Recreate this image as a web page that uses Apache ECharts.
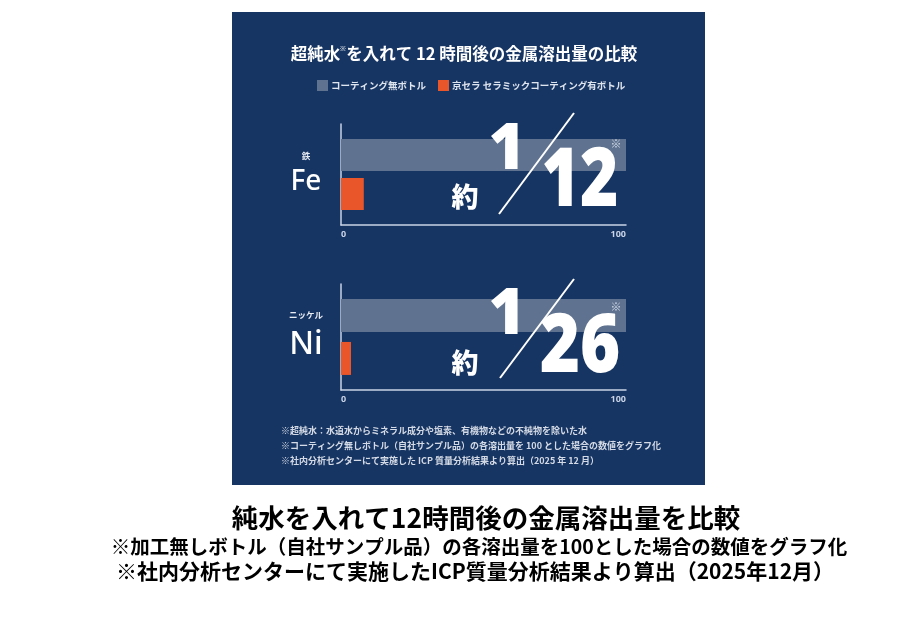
<!DOCTYPE html>
<html>
<head>
<meta charset="utf-8">
<script src="https://cdn.jsdelivr.net/npm/echarts@6/dist/echarts.min.js"></script>
<style>
html,body{margin:0;padding:0;background:#ffffff;}
#chart{width:922px;height:617px;}
</style>
</head>
<body>
<div id="chart"></div>
<script>
// ---- data ----
const metalSymbols = ['Fe', 'Ni'];
const metalNames = ['鉄', 'ニッケル'];
const seriesNames = ['コーティング無ボトル', '京セラ セラミックコーティング有ボトル'];
const uncoatedValues = [100, 100];
const coatedValues = [8, 3.5];
const ratioLabels = ['12', '26'];
const xTickValues = [0, 100];

const JP = '"Noto Sans CJK JP", "Noto Sans", sans-serif';
const NAVY = '#173563';
const GREY = '#5f7290';
const ORANGE = '#e8562a';
const AXIS = '#c9d3e6';

const grids = [
  { left: 341, width: 285, top: 124, height: 101 },
  { left: 341, width: 285, top: 284, height: 106 }
];
const barW = [32, 33];
const barGaps = ['22%', '30%'];
const symSize = [28, 32];
const symLH = [38, 44];

const xAxes = grids.map((g, i) => ({
  gridIndex: i, type: 'value', min: xTickValues[0], max: xTickValues[1], interval: xTickValues[1] - xTickValues[0],
  axisLine: { show: true, lineStyle: { color: AXIS, width: 1.5 } },
  axisTick: { show: false },
  splitLine: { show: false },
  axisLabel: { color: AXIS, fontSize: 9, fontFamily: 'Noto Sans', fontWeight: 'bold', margin: 5,
    alignMinLabel: 'left', alignMaxLabel: 'right' }
}));
const yAxes = grids.map((g, i) => ({
  gridIndex: i, type: 'category', inverse: true, data: [metalSymbols[i]],
  axisLine: { show: true, lineStyle: { color: AXIS, width: 1.5 } },
  axisTick: { show: false },
  axisLabel: {
    margin: 35, align: 'center',
    formatter: () => '{s|' + metalNames[i] + '}\n{b|' + metalSymbols[i] + '}',
    rich: {
      s: { color: '#e8ecf3', fontSize: 8.5, fontWeight: 'bold', fontFamily: JP, lineHeight: 16, align: 'center' },
      b: { color: '#ffffff', fontSize: symSize[i], fontWeight: 500, fontFamily: 'Noto Sans', lineHeight: symLH[i], align: 'center' }
    }
  }
}));
const series = [];
grids.forEach((g, i) => {
  series.push({ name: seriesNames[0], type: 'bar', xAxisIndex: i, yAxisIndex: i,
    data: [uncoatedValues[i]], barWidth: barW[i], barGap: barGaps[i],
    itemStyle: { color: GREY }, silent: true });
  series.push({ name: seriesNames[1], type: 'bar', xAxisIndex: i, yAxisIndex: i,
    data: [coatedValues[i]], barWidth: barW[i], barGap: barGaps[i],
    itemStyle: { color: ORANGE }, silent: true });
});

function bigNumbers(i, y1, y2, yYaku, slash, yMark, scale) {
  return [
    { type: 'text', x: 465, y: yYaku, z: 10, style: { text: '約', font: '900 27px ' + JP, fill: '#ffffff', align: 'center', verticalAlign: 'middle' } },
    { type: 'text', x: 507, y: y1, z: 10, style: { text: '1', font: '900 63px "Noto Sans"', fill: '#ffffff', align: 'center', verticalAlign: 'middle' } },
    { type: 'text', x: 580, y: y2, z: 10, scaleX: scale, style: { text: ratioLabels[i], font: '900 82px "Noto Sans"', fill: '#ffffff', align: 'center', verticalAlign: 'middle' } },
    { type: 'line', z: 10, shape: { x1: slash[0], y1: slash[1], x2: slash[2], y2: slash[3] }, style: { stroke: '#ffffff', lineWidth: 2 } },
    { type: 'text', x: 616, y: yMark, z: 10, style: { text: '※', font: 'bold 11px ' + JP, fill: '#d5dcea', align: 'center', verticalAlign: 'middle' } }
  ];
}

const notes = [
  '※超純水：水道水からミネラル成分や塩素、有機物などの不純物を除いた水',
  '※コーティング無しボトル（自社サンプル品）の各溶出量を 100 とした場合の数値をグラフ化',
  '※社内分析センターにて実施した ICP 質量分析結果より算出（2025 年 12 月）'
];

const option = {
  animation: false,
  backgroundColor: '#ffffff',
  grid: grids.map(g => Object.assign({ containLabel: false }, g)),
  xAxis: xAxes,
  yAxis: yAxes,
  series: series,
  legend: {
    data: seriesNames, left: 312, top: 75, itemWidth: 11, itemHeight: 11, itemGap: 12,
    icon: 'rect',
    textStyle: { color: '#dfe5ee', fontSize: 9.5, fontWeight: 'bold', fontFamily: JP, padding: [0, 0, 0, -2] }
  },
  graphic: [
    { type: 'rect', z: -10, silent: true, shape: { x: 232, y: 12, width: 473, height: 473 }, style: { fill: NAVY } },
    { type: 'text', x: 464, y: 54, style: { text: '超純水{sup|※}を入れて 12 時間後の金属溶出量の比較', rich: { sup: { fontSize: 7, verticalAlign: 'top', padding: [0, 0, 8, 0], fill: '#ffffff' } }, font: 'bold 16.5px ' + JP, fill: '#ffffff', align: 'center', verticalAlign: 'middle' } },
    ...bigNumbers(0, 151, 183, 197, [499, 214, 574, 113], 144, 0.8),
    ...bigNumbers(1, 316, 349, 363, [500, 378, 574, 279], 307, 0.84),
    ...notes.map((t, k) => ({ type: 'text', x: 281, y: 431 + k * 15, style: { text: t, font: 'bold 9px ' + JP, fill: '#d5dbe6', align: 'left', verticalAlign: 'middle' } })),
    { type: 'text', x: 486, y: 518, style: { text: '純水を入れて12時間後の金属溶出量を比較', font: 'bold 26.5px ' + JP, fill: '#000000', align: 'center', verticalAlign: 'middle' } },
    { type: 'text', x: 479, y: 547, style: { text: '※加工無しボトル（自社サンプル品）の各溶出量を100とした場合の数値をグラフ化', font: 'bold 19.5px ' + JP, fill: '#000000', align: 'center', verticalAlign: 'middle' } },
    { type: 'text', x: 475, y: 571, style: { text: '※社内分析センターにて実施したICP質量分析結果より算出（2025年12月）', font: 'bold 21px ' + JP, fill: '#000000', align: 'center', verticalAlign: 'middle' } }
  ]
};
const chart = echarts.init(document.getElementById('chart'), null, { renderer: 'canvas' });
chart.setOption(option);
</script>
</body>
</html>
